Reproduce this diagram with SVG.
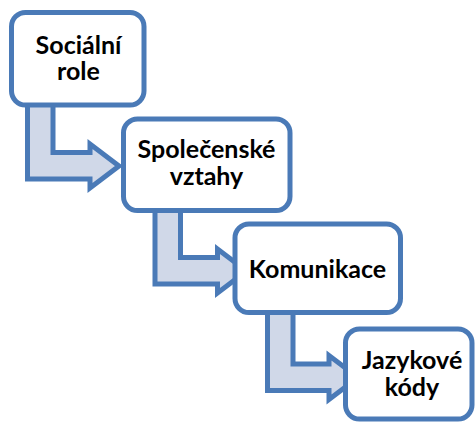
<svg xmlns="http://www.w3.org/2000/svg" width="475" height="423" viewBox="0 0 475 423">
<style>
.box{fill:#ffffff;stroke:#4A7AB7;stroke-width:5}
.arr{fill:#D0D8E8;stroke:#4A7AB7;stroke-width:5;stroke-linejoin:miter}
.t{font-family:Lato,"Open Sans",sans-serif;font-weight:bold;font-size:25px;fill:#000;text-anchor:middle}
</style>
<g id="connectors">
<path id="a1" class="arr" d="M27.5,100 V179 H90 V188 L119,166 L90,144 V152.5 H53 V100 Z"/>
<path id="a2" class="arr" d="M155,205 V284 H217.5 V293 L246.5,271 L217.5,249 V257.5 H180.5 V205 Z"/>
<path id="a3" class="arr" d="M267.5,307 V390.5 H329 V399.5 L358,377.5 L329,355.5 V364 H293 V307 Z"/>
</g>
<g id="n1">
<rect class="box" x="11.5" y="12.5" width="132.5" height="92.5" rx="14"/>
<text class="t" x="78.5" y="53.5">Sociální</text>
<text class="t" x="78.5" y="80">role</text>
</g>
<g id="n2">
<rect class="box" x="123.5" y="119" width="166.5" height="91.5" rx="14"/>
<text class="t" x="206.5" y="157.5">Společenské</text>
<text class="t" x="206.5" y="185">vztahy</text>
</g>
<g id="n3">
<rect class="box" x="235" y="224" width="165.5" height="88.5" rx="14"/>
<text class="t" x="317.5" y="277.5">Komunikace</text>
</g>
<g id="n4">
<rect class="box" x="345.5" y="329" width="126.5" height="90" rx="14"/>
<text class="t" x="412" y="368.5">Jazykové</text>
<text class="t" x="412" y="395.5">kódy</text>
</g>
</svg>
